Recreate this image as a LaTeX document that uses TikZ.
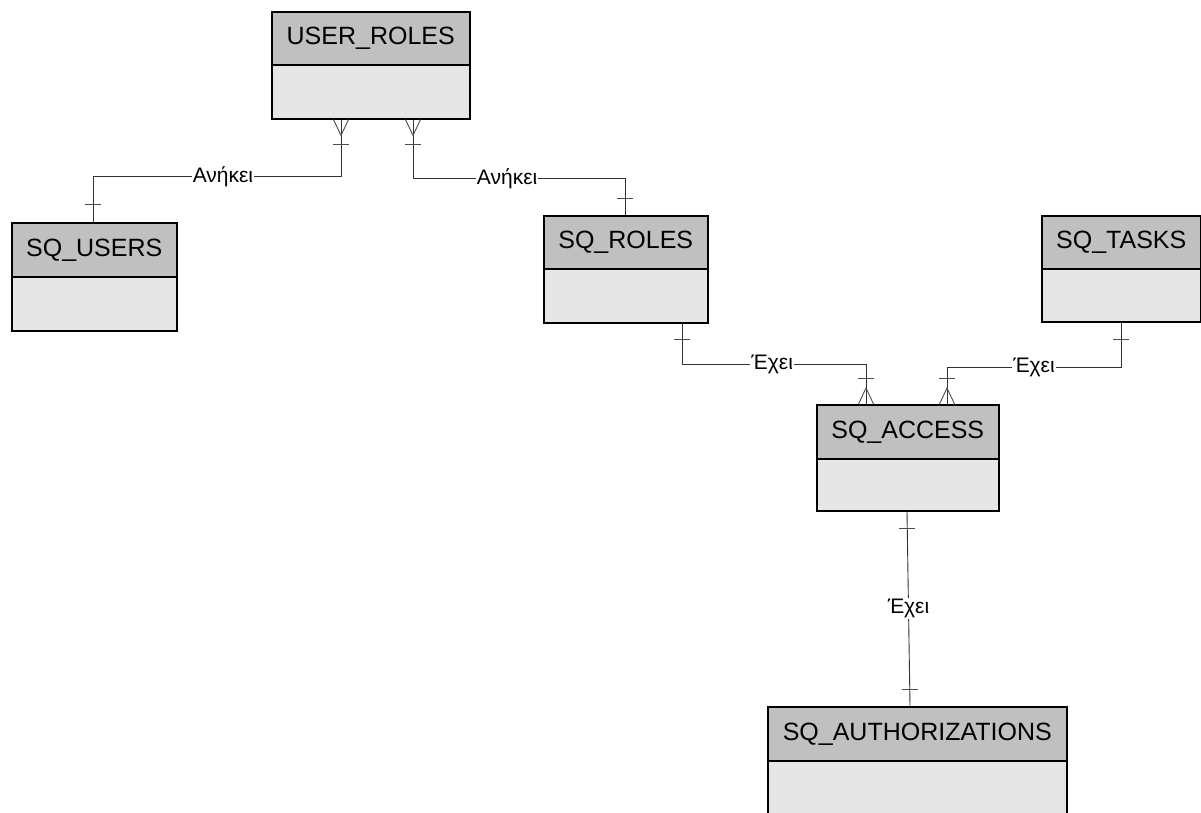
\documentclass[tikz,border=0pt]{standalone}
\usepackage{fontspec}
\setmainfont{Liberation Sans}
\usetikzlibrary{calc}
\definecolor{hdrgray}{HTML}{C0C0C0}
\definecolor{bodygray}{HTML}{E6E6E6}
\newcommand\erbar[2]{\draw[mk] ($(#1)+(-8,#2)$) -- ($(#1)+(8,#2)$);}
\newcommand\ercrow[2]{\draw[mk] ($(#1)+(-7.5,0)$) -- ($(#1)+(0,#2)$) -- ($(#1)+(7.5,0)$);}
\begin{document}
\begin{tikzpicture}[x=1pt,y=-1pt,
 hdr/.style={draw=black, line width=1.5pt, fill=hdrgray, anchor=north west, inner sep=0pt, minimum height=53pt, font=\fontsize{25}{27}\selectfont},
 bdy/.style={draw=black, line width=1.5pt, fill=bodygray, anchor=north west, inner sep=0pt, minimum height=54pt},
 rel/.style={line width=0.9pt, draw=black!80},
 lbl/.style={fill=white, inner sep=1pt, font=\fontsize{21}{23}\selectfont},
 mk/.style={line width=0.9pt, draw=black!70}
]
\useasboundingbox (0,0) rectangle (1201,812);

% USER_ROLES
\node[bdy, minimum width=198pt] (urb) at (271,64) {};
\node[hdr, minimum width=198pt] (urh) at (271,11) {USER\_ROLES};
% SQ_USERS
\node[bdy, minimum width=165pt] (sub) at (11,276) {};
\node[hdr, minimum width=165pt, minimum height=54pt] (suh) at (11,222) {SQ\_USERS};
% SQ_ROLES
\node[bdy, minimum width=164pt] (srb) at (543,268) {};
\node[hdr, minimum width=164pt] (srh) at (543,215) {SQ\_ROLES};
% SQ_TASKS
\node[bdy, minimum width=159pt, minimum height=53pt] (stb) at (1041,268) {};
\node[hdr, minimum width=159pt] (sth) at (1041,215) {SQ\_TASKS};
% SQ_ACCESS
\node[bdy, minimum width=182pt, minimum height=52pt] (sab) at (816,458) {};
\node[hdr, minimum width=182pt, minimum height=54pt] (sah) at (816,404) {SQ\_ACCESS};
% SQ_AUTHORIZATIONS
\node[bdy, minimum width=299pt, minimum height=80pt] (szb) at (767,760) {};
\node[hdr, minimum width=299pt, minimum height=54pt] (szh) at (767,706) {SQ\_AUTHORIZATIONS};

% connection points
\coordinate (a1) at ($(urb.south west)+(70,0)$);
\coordinate (a2) at ($(suh.north west)+(82,0)$);
\coordinate (a3) at ($(urb.south west)+(142,0)$);
\coordinate (a4) at ($(srh.north west)+(82,0)$);
\coordinate (b1) at ($(srb.south west)+(139,0)$);
\coordinate (b2) at ($(sah.north west)+(50,0)$);
\coordinate (c1) at ($(stb.south west)+(80,0)$);
\coordinate (c2) at ($(sah.north west)+(131,0)$);
\coordinate (d1) at ($(sab.south west)+(91,0)$);
\coordinate (d2) at ($(szh.north west)+(143,0)$);

% connectors
\draw[rel] (a1) -- ++(0,57) -| node[lbl,pos=0.238]{Ανήκει} (a2);
\draw[rel] (a3) -- ++(0,59) -| node[lbl,pos=0.222]{Ανήκει} (a4);
\draw[rel] (b1) -- ++(0,41) -| node[lbl,pos=0.245]{Έχει} (b2);
\draw[rel] (c1) -- ++(0,45) -| node[lbl,pos=0.25]{Έχει} (c2);
\draw[rel] (d1) -- node[lbl,midway]{Έχει} (d2);

% cardinality marks
\ercrow{a1}{16} \erbar{a1}{25}
\ercrow{a3}{16} \erbar{a3}{25}
\erbar{a2}{-18}
\erbar{a4}{-17}
\erbar{b1}{16}
\ercrow{b2}{-16} \erbar{b2}{-26}
\erbar{c1}{17}
\ercrow{c2}{-16} \erbar{c2}{-26}
\erbar{d1}{17}
\erbar{d2}{-17}
\end{tikzpicture}
\end{document}
